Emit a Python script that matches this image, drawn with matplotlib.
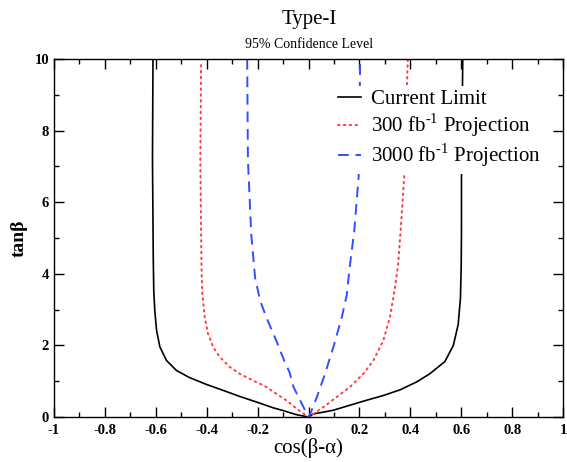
import numpy as np
import matplotlib
matplotlib.use("Agg")
import matplotlib.pyplot as plt
from matplotlib.ticker import MultipleLocator, FuncFormatter

# === DATA ===
cur_x = [-0.611, -0.613, -0.610, -0.608, -0.604, -0.597, -0.584, -0.558, -0.519, -0.467,
         -0.401, -0.336, -0.271, -0.205, -0.140, -0.100, -0.050, 0.0,
         0.020, 0.039, 0.098, 0.163, 0.229, 0.294, 0.360, 0.425, 0.477, 0.536,
         0.569, 0.588, 0.597, 0.600, 0.601, 0.601, 0.605, 0.606]
cur_y = [10.0, 7.2, 4.5, 3.54, 2.98, 2.42, 1.96, 1.58, 1.30, 1.10,
         0.91, 0.745, 0.577, 0.42, 0.26, 0.18, 0.07, 0.0,
         0.09, 0.11, 0.19, 0.33, 0.47, 0.60, 0.76, 0.98, 1.21, 1.55,
         2.0, 2.58, 3.32, 4.25, 5.2, 6.7, 9.3, 10.0]

p300_x = [-0.422, -0.425, -0.422, -0.420, -0.417, -0.408, -0.395, -0.375, -0.349, -0.310,
          -0.271, -0.218, -0.166, -0.127, -0.088, -0.046, 0.0,
          0.020, 0.059, 0.111, 0.163, 0.216, 0.255, 0.294, 0.320, 0.337, 0.352,
          0.362, 0.376, 0.390]
p300_y = [9.83, 7.18, 5.2, 4.0, 3.43, 2.79, 2.33, 1.96, 1.68, 1.40,
          1.21, 1.02, 0.84, 0.65, 0.47, 0.23, 0.0,
          0.09, 0.28, 0.56, 0.84, 1.21, 1.58, 2.14, 2.79, 3.49, 4.25,
          5.22, 6.71, 10.0]

p3000_x = [-0.241, -0.238, -0.225, -0.210, -0.190, -0.166, -0.127, -0.093, -0.075, -0.059, -0.020, 0.0,
           0.007, 0.033, 0.065, 0.098, 0.131, 0.150, 0.163, 0.180, 0.197, 0.203]
p3000_y = [10.0, 7.18, 5.1, 3.9, 3.25, 2.79, 2.14, 1.53, 1.26, 0.84, 0.28, 0.0,
           0.09, 0.56, 1.21, 1.96, 2.79, 3.4, 4.25, 5.22, 6.71, 10.0]

labels = ["Current Limit", r"300 fb$^{\text{-1}}$ Projection",
          r"3000 fb$^{\text{-1}}$ Projection"]

plt.rcParams["font.family"] = ["Liberation Serif", "DejaVu Serif"]
plt.rcParams["mathtext.fontset"] = "custom"
plt.rcParams["mathtext.rm"] = "Liberation Serif"

fig = plt.figure(figsize=(5.67, 4.62), dpi=100)
ax = fig.add_axes([0.0952, 0.0974, 0.8978, 0.7749])

ax.plot(cur_x, cur_y, color="black", lw=1.2, label=labels[0])
ax.plot(p300_x, p300_y, color="#ff3c3c", lw=1.4, linestyle=(0, (0.8, 2.2)),
        dash_capstyle="round", label=labels[1])
ax.plot(p3000_x, p3000_y, color="#3050ff", lw=1.4, linestyle=(0, (5.5, 3.5)),
        label=labels[2])

ax.set_xlim(-1, 1)
ax.set_ylim(0, 10)
ax.xaxis.set_major_locator(MultipleLocator(0.2))
ax.xaxis.set_minor_locator(MultipleLocator(0.1))
ax.yaxis.set_major_locator(MultipleLocator(2))
ax.yaxis.set_minor_locator(MultipleLocator(1))
ax.xaxis.set_major_formatter(FuncFormatter(lambda v, p: f"{round(v, 1):g}".replace("-0", "-0") if abs(v) > 1e-9 else "0"))
ax.tick_params(which="both", direction="in", top=True, right=True, width=1.0)
ax.tick_params(which="major", length=7, labelsize=10.5)
ax.tick_params(axis="x", which="major", pad=5)
ax.tick_params(which="minor", length=3.5)
for lab in ax.get_xticklabels() + ax.get_yticklabels():
    lab.set_fontweight("bold")
for sp in ax.spines.values():
    sp.set_linewidth(1.0)

ax.set_xlabel("cos(β-α)", fontsize=15, labelpad=1)
ax.set_ylabel("tanβ", fontsize=14, fontweight="bold", labelpad=5)

fig.text(0.545, 0.958, "Type-I", ha="center", va="center", fontsize=15)
fig.text(0.545, 0.903, "95% Confidence Level", ha="center", va="center", fontsize=10)

leg = ax.legend(loc="upper left", bbox_to_anchor=(0.53, 0.955), fontsize=15,
                handlelength=1.1, handletextpad=0.45, labelspacing=0.12,
                borderpad=0.2, frameon=True, fancybox=False)
leg.get_frame().set_facecolor("white")
leg.get_frame().set_edgecolor("none")
leg.get_frame().set_alpha(1.0)

fig.savefig("out.png", dpi=100)
